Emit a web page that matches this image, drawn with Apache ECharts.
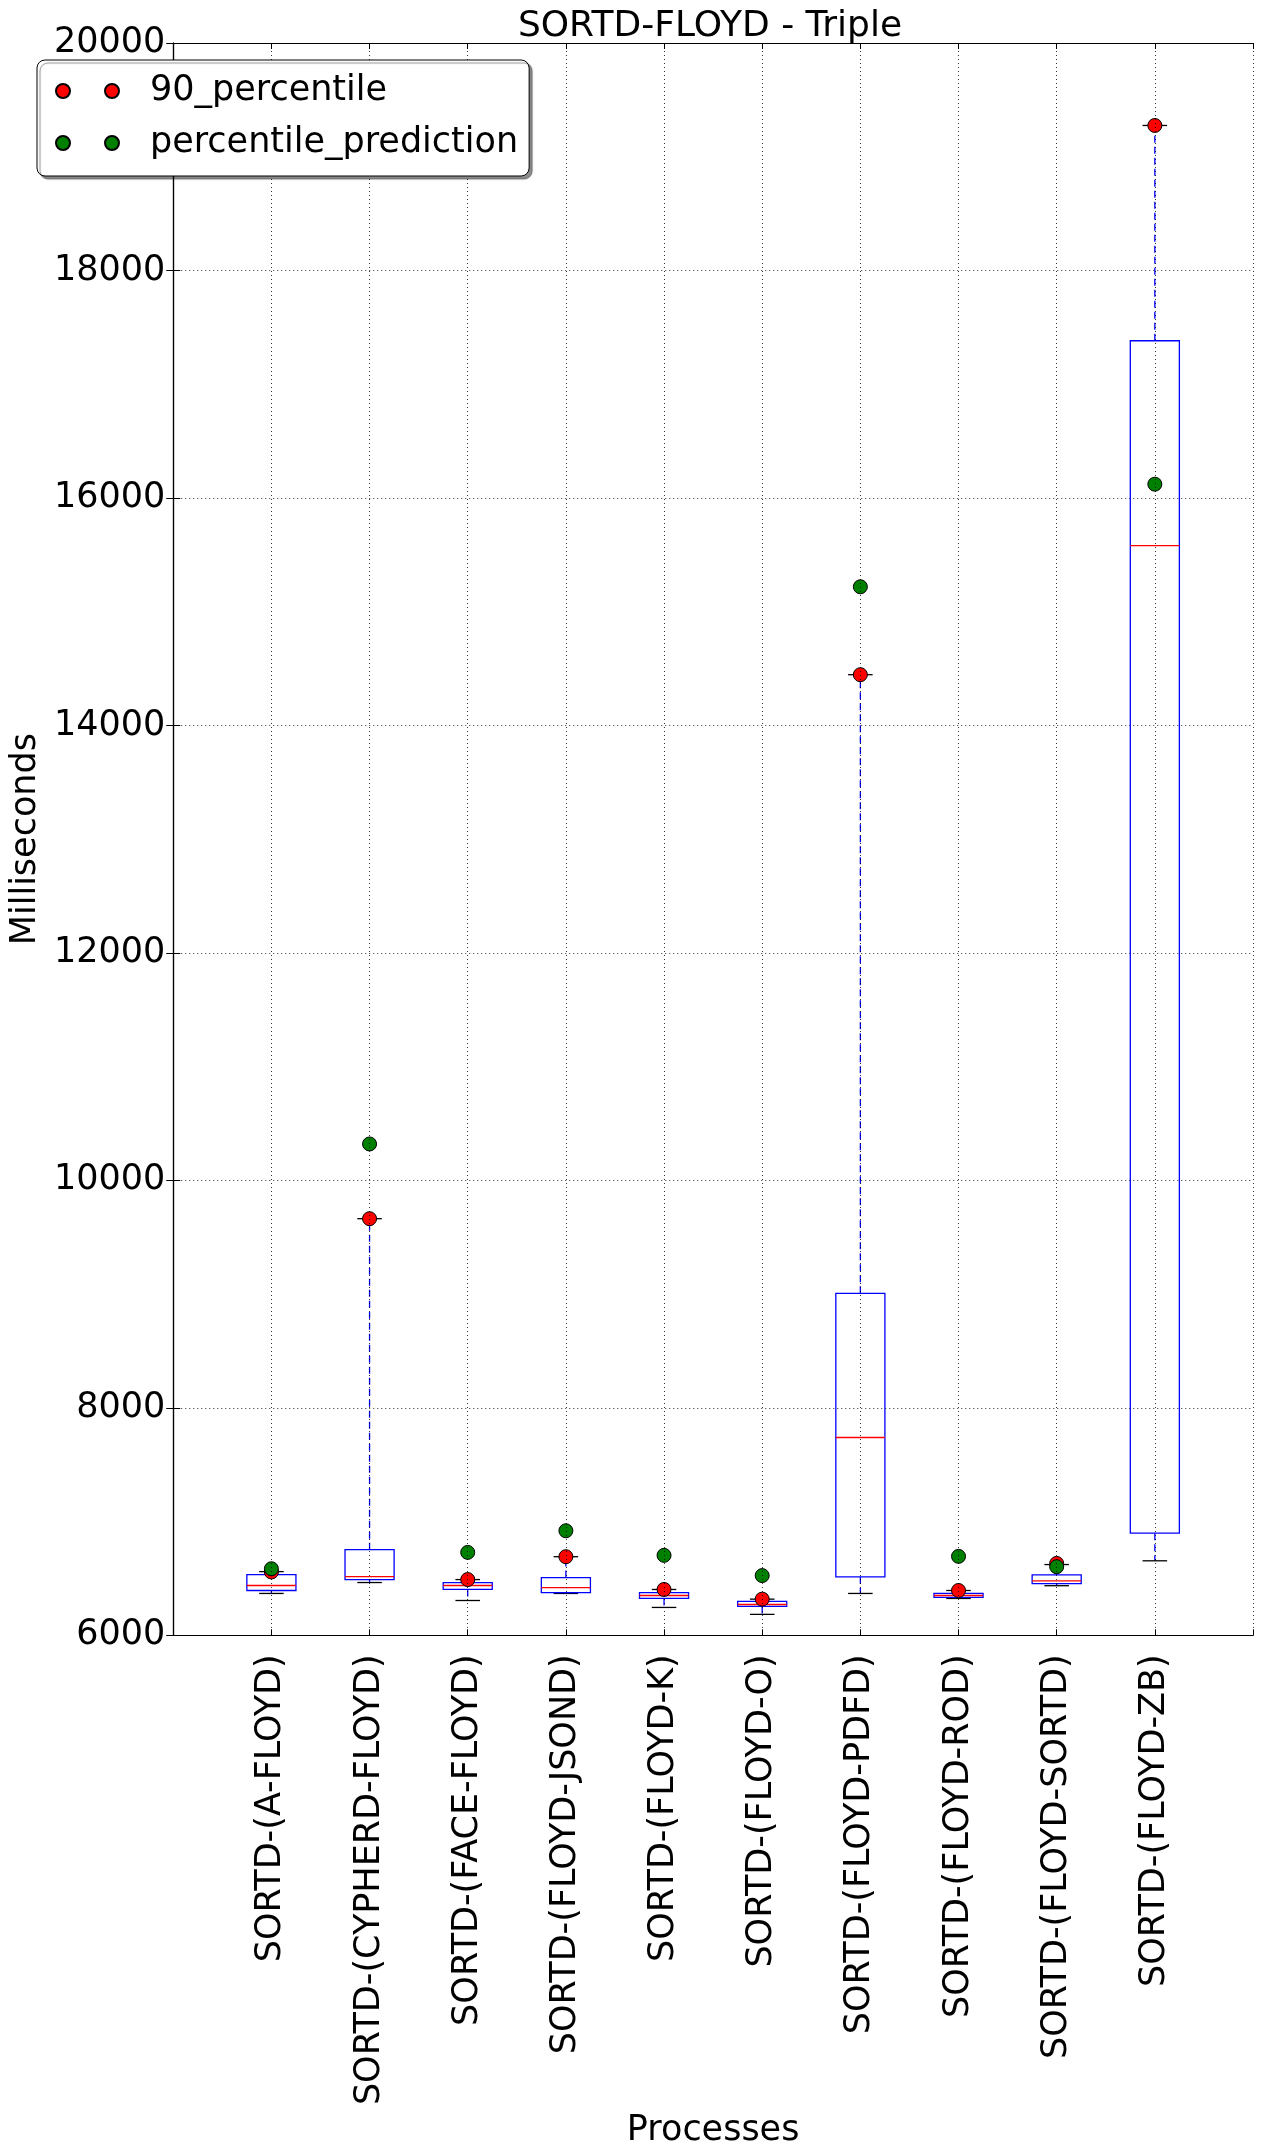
<!DOCTYPE html>
<html>
<head>
<meta charset="utf-8">
<script src="https://cdn.jsdelivr.net/npm/echarts@6/dist/echarts.min.js"></script>
<style>
html,body{margin:0;padding:0;background:#fff;}
#chart{width:1261px;height:2153px;}
</style>
</head>
<body>
<div id="chart"></div>
<script>
// ---- data ----
const categories = ['SORTD-(A-FLOYD)', 'SORTD-(CYPHERD-FLOYD)', 'SORTD-(FACE-FLOYD)', 'SORTD-(FLOYD-JSOND)', 'SORTD-(FLOYD-K)', 'SORTD-(FLOYD-O)', 'SORTD-(FLOYD-PDFD)', 'SORTD-(FLOYD-ROD)', 'SORTD-(FLOYD-SORTD)', 'SORTD-(FLOYD-ZB)'];
const whiskerLow  = [6368, 6464, 6306, 6368, 6245, 6184, 6368, 6324, 6436, 6655];
const q1          = [6394, 6490, 6403, 6376, 6324, 6254, 6514, 6333, 6455, 6898];
const median      = [6438, 6516, 6438, 6420, 6350, 6271, 7739, 6350, 6479, 15581];
const q3          = [6534, 6753, 6464, 6508, 6376, 6298, 9007, 6368, 6532, 17382];
const whiskerHigh = [6560, 9663, 6490, 6691, 6403, 6318, 14446, 6394, 6622, 19275];
const p90         = [6557, 9663, 6490, 6691, 6403, 6318, 14446, 6394, 6632, 19275];
const prediction  = [6585, 10320, 6729, 6919, 6703, 6525, 15219, 6694, 6603, 16121];
const yTicks = [6000, 8000, 10000, 12000, 14000, 16000, 18000, 20000];

const FONT = 'DejaVu Sans';
const FS = 35;
const boxData = categories.map((c, i) => [i + 1, whiskerLow[i], q1[i], median[i], q3[i], whiskerHigh[i]]);
const p90Data = categories.map((c, i) => [i + 1, p90[i]]);
const predData = categories.map((c, i) => [i + 1, prediction[i]]);
const twoDots = 'path://M0,7A7,7 0 1,0 14,7A7,7 0 1,0 0,7Z M49,7A7,7 0 1,0 63,7A7,7 0 1,0 49,7Z';

function renderBox(params, api) {
  const x = api.value(0);
  const lo = api.coord([x, api.value(1)]);
  const b1 = api.coord([x, api.value(2)]);
  const md = api.coord([x, api.value(3)]);
  const b3 = api.coord([x, api.value(4)]);
  const hi = api.coord([x, api.value(5)]);
  const hw = api.size([0.5, 0])[0] / 2;
  const hc = api.size([0.25, 0])[0] / 2;
  const cx = lo[0];
  const blue = '#0000ff';
  return {
    type: 'group',
    children: [
      {type: 'line', shape: {x1: cx, y1: b3[1], x2: cx, y2: hi[1]}, style: {stroke: blue, lineWidth: 1.3, lineDash: [7, 4]}},
      {type: 'line', shape: {x1: cx, y1: b1[1], x2: cx, y2: lo[1]}, style: {stroke: blue, lineWidth: 1.3, lineDash: [7, 4]}},
      {type: 'line', shape: {x1: cx - hc, y1: hi[1], x2: cx + hc, y2: hi[1]}, style: {stroke: '#000', lineWidth: 1.3}},
      {type: 'line', shape: {x1: cx - hc, y1: lo[1], x2: cx + hc, y2: lo[1]}, style: {stroke: '#000', lineWidth: 1.3}},
      {type: 'rect', shape: {x: cx - hw, y: b3[1], width: hw * 2, height: b1[1] - b3[1]}, style: {stroke: blue, fill: 'none', lineWidth: 1.3}},
      {type: 'line', shape: {x1: cx - hw, y1: md[1], x2: cx + hw, y2: md[1]}, style: {stroke: '#ff0000', lineWidth: 1.3}}
    ]
  };
}

const chart = echarts.init(document.getElementById('chart'), null, {renderer: 'canvas'});
const gridLine = {show: true, lineStyle: {color: '#000', width: 0.8, type: [1, 3]}};
chart.setOption({
  animation: false,
  backgroundColor: '#fff',
  textStyle: {fontFamily: FONT},
  title: {
    text: 'SORTD-FLOYD - Triple',
    left: 710, top: 9, textAlign: 'center', padding: 0,
    textStyle: {fontFamily: FONT, fontSize: 36, fontWeight: 'normal', color: '#000'}
  },
  legend: {
    orient: 'vertical', left: 37, top: 60, z: 10,
    padding: [11, 11, 13, 18],
    itemGap: 12, itemWidth: 63, itemHeight: 14,
    selectedMode: false,
    backgroundColor: '#fff', borderColor: '#000', borderWidth: 1, borderRadius: 8,
    shadowColor: 'rgba(0,0,0,0.45)', shadowBlur: 1, shadowOffsetX: 3, shadowOffsetY: 3,
    textStyle: {fontFamily: FONT, fontSize: FS, color: '#000', lineHeight: 40, padding: [0, 0, 0, 26]},
    data: [{name: '90_percentile', icon: twoDots}, {name: 'percentile_prediction', icon: twoDots}]
  },
  grid: {left: 167, right: 8, top: 43, bottom: 510, containLabel: false},
  xAxis: [{
    type: 'value', min: 0, max: 11, interval: 1, position: 'bottom', z: 5,
    name: 'Processes', nameLocation: 'middle', nameGap: 466,
    nameTextStyle: {fontFamily: FONT, fontSize: FS, color: '#000'},
    axisLine: {show: true, onZero: false, lineStyle: {color: '#000', width: 1.2}},
    axisTick: {show: true, inside: true, length: 6, lineStyle: {color: '#000'}},
    axisLabel: {rotate: 90, margin: 19, fontFamily: FONT, fontSize: FS, color: '#000',
      formatter: v => categories[v - 1] || ''},
    splitLine: gridLine
  }, {
    type: 'value', min: 0, max: 11, interval: 1, position: 'top', z: 5,
    axisLine: {show: true, onZero: false, lineStyle: {color: '#000', width: 1.2}},
    axisTick: {show: true, inside: true, length: 6, lineStyle: {color: '#000'}},
    axisLabel: {show: false}, splitLine: {show: false}
  }],
  yAxis: [{
    type: 'value', min: yTicks[0], max: yTicks[yTicks.length - 1], interval: 2000, z: 5,
    name: 'Milliseconds', nameLocation: 'middle', nameGap: 109,
    nameTextStyle: {fontFamily: FONT, fontSize: FS, color: '#000'},
    axisLine: {show: true, lineStyle: {color: '#000', width: 1.2}},
    axisTick: {show: true, inside: true, length: 7, lineStyle: {color: '#000'}},
    axisLabel: {margin: 8, fontFamily: FONT, fontSize: FS, color: '#000', formatter: v => String(v)},
    splitLine: gridLine
  }, {
    type: 'value', min: yTicks[0], max: yTicks[yTicks.length - 1], interval: 2000, position: 'right', z: 5,
    axisLine: {show: true, lineStyle: {color: '#000', width: 1.2}},
    axisTick: {show: true, inside: true, length: 7, lineStyle: {color: '#000'}},
    axisLabel: {show: false}, splitLine: {show: false}
  }],
  series: [{
    type: 'custom', name: 'box', renderItem: renderBox, data: boxData, z: 2,
    encode: {x: 0, y: [1, 2, 3, 4, 5]}, silent: true
  }, {
    type: 'scatter', name: '90_percentile', data: p90Data, symbolSize: 14, z: 3,
    itemStyle: {color: '#ff0000', borderColor: '#000', borderWidth: 1, opacity: 1}
  }, {
    type: 'scatter', name: 'percentile_prediction', data: predData, symbolSize: 14, z: 3,
    itemStyle: {color: '#008000', borderColor: '#000', borderWidth: 1, opacity: 1}
  }]
});
</script>
</body>
</html>
